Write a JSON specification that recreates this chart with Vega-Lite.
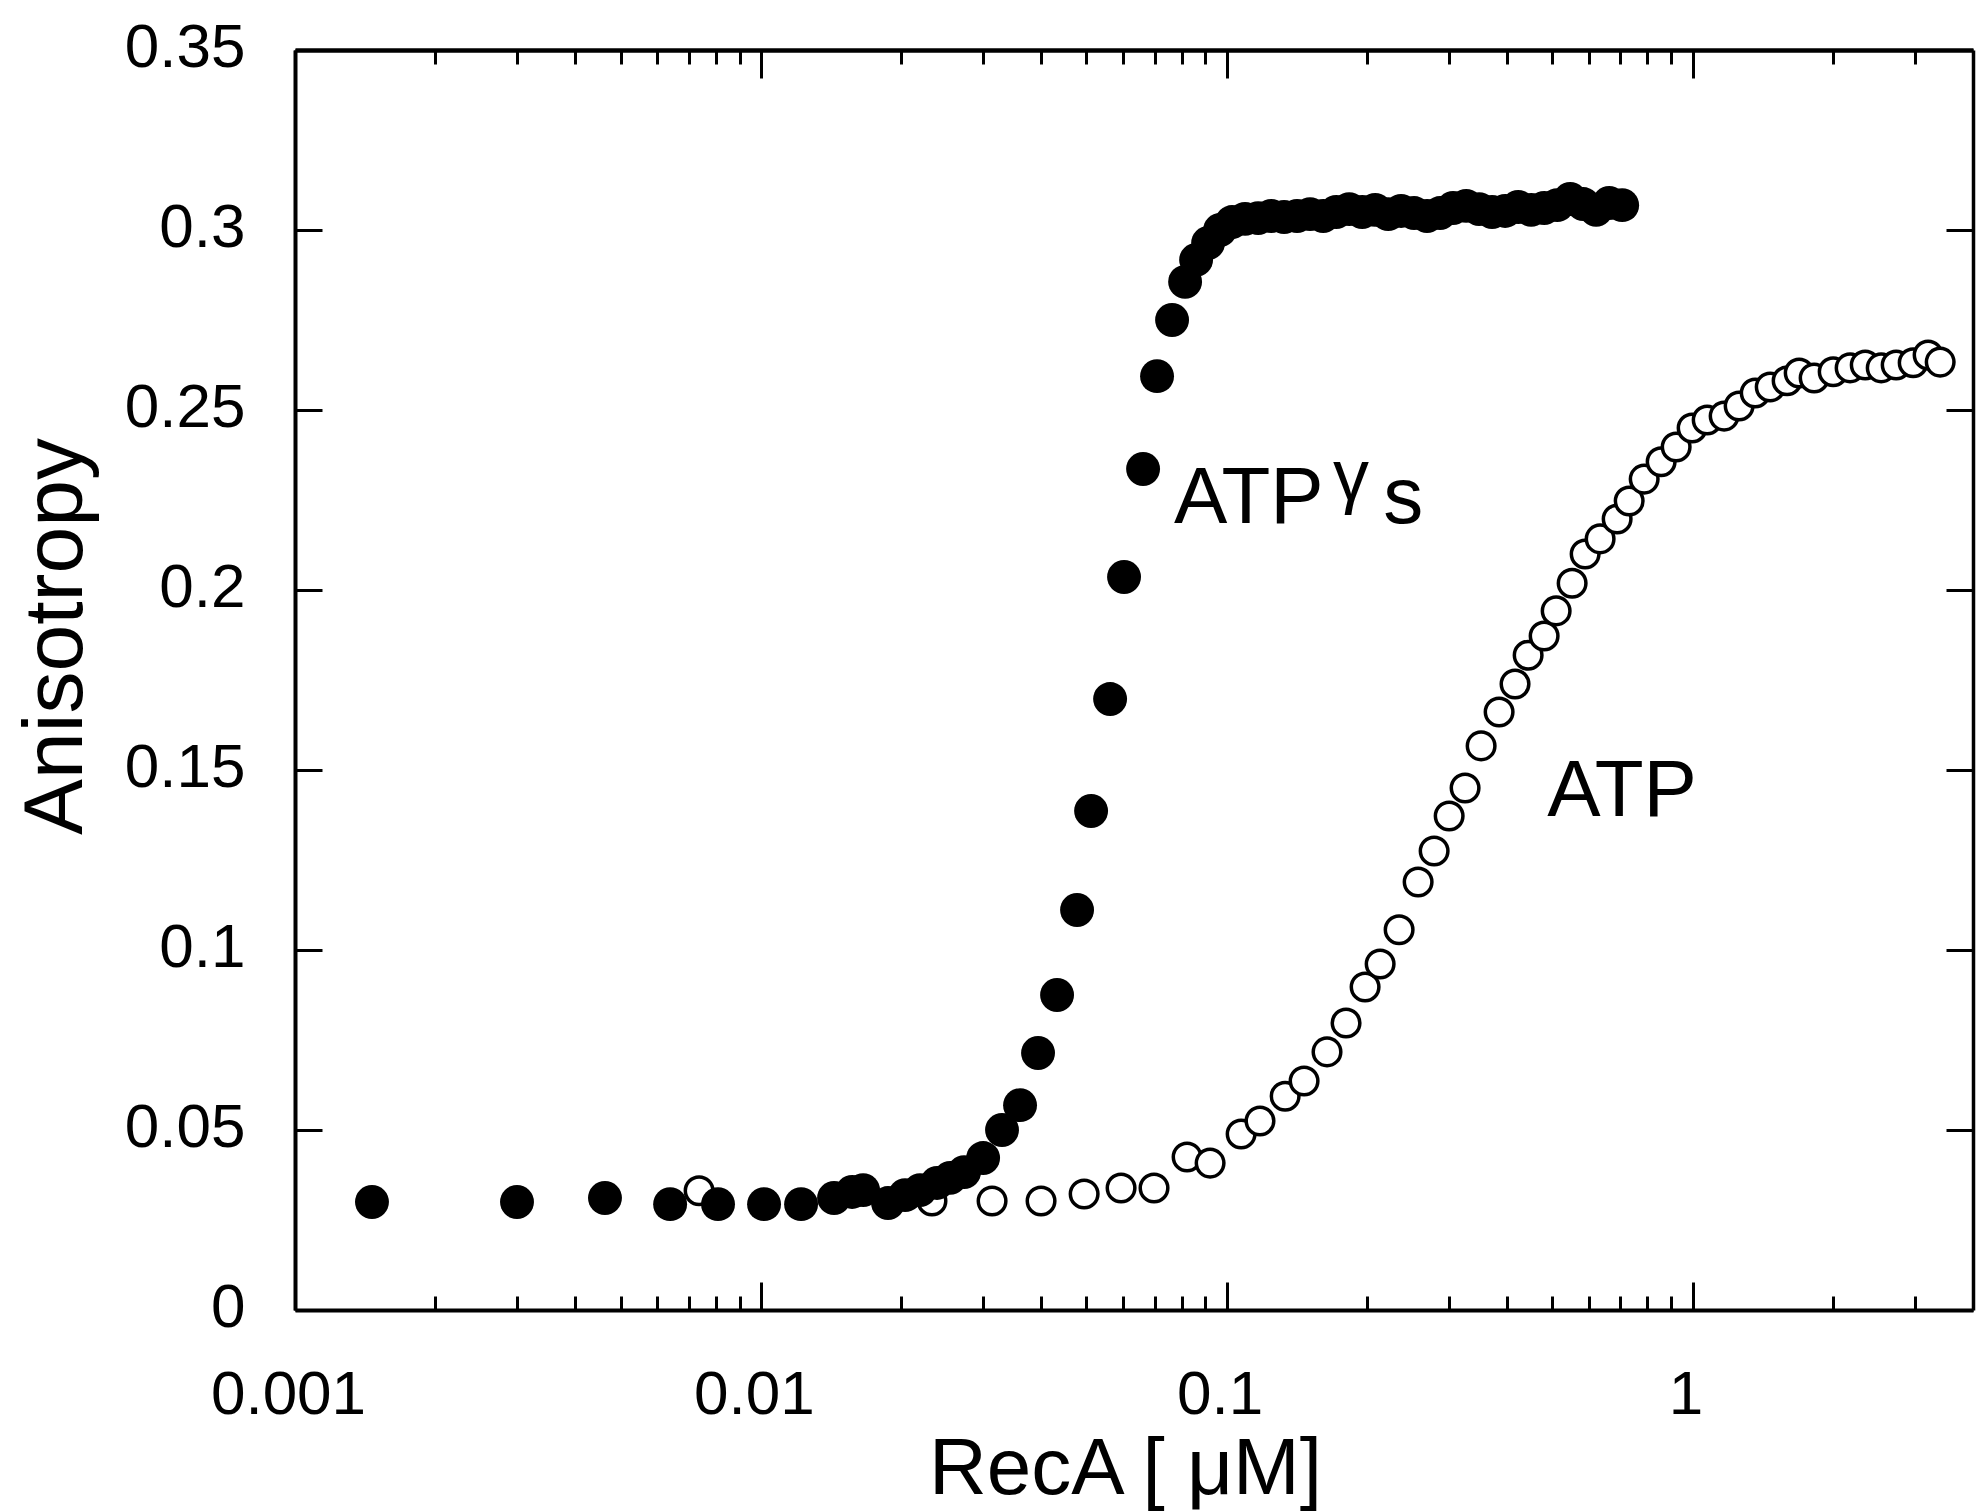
{
  "$schema": "https://vega.github.io/schema/vega-lite/v6.json",
  "autosize": "none",
  "width": 1678,
  "height": 1260,
  "padding": {"left": 295, "top": 50, "right": 3, "bottom": 202},
  "background": "white",
  "config": {"view": {"stroke": null}},
  "datasets": {
    "atpgs": [
      {"conc": 0.001463, "aniso": 0.0300}, {"conc": 0.002996, "aniso": 0.0300}, {"conc": 0.004628, "aniso": 0.0311},
      {"conc": 0.006386, "aniso": 0.0294}, {"conc": 0.008092, "aniso": 0.0294}, {"conc": 0.01016, "aniso": 0.0294},
      {"conc": 0.0122, "aniso": 0.0294}, {"conc": 0.01436, "aniso": 0.0311}, {"conc": 0.0157, "aniso": 0.0328},
      {"conc": 0.01658, "aniso": 0.0333}, {"conc": 0.01875, "aniso": 0.0297}, {"conc": 0.0204, "aniso": 0.0319},
      {"conc": 0.02197, "aniso": 0.0333}, {"conc": 0.02389, "aniso": 0.0353}, {"conc": 0.02549, "aniso": 0.0367},
      {"conc": 0.02731, "aniso": 0.0383}, {"conc": 0.03, "aniso": 0.0422}, {"conc": 0.03294, "aniso": 0.05},
      {"conc": 0.03601, "aniso": 0.0569}, {"conc": 0.03936, "aniso": 0.0714}, {"conc": 0.04324, "aniso": 0.0875},
      {"conc": 0.04773, "aniso": 0.1111}, {"conc": 0.05116, "aniso": 0.1386}, {"conc": 0.0562, "aniso": 0.1697},
      {"conc": 0.06021, "aniso": 0.2036}, {"conc": 0.06615, "aniso": 0.2336}, {"conc": 0.07088, "aniso": 0.2594},
      {"conc": 0.07634, "aniso": 0.275}, {"conc": 0.08142, "aniso": 0.2856}, {"conc": 0.08597, "aniso": 0.2917},
      {"conc": 0.09123, "aniso": 0.2964}, {"conc": 0.09678, "aniso": 0.3}, {"conc": 0.1027, "aniso": 0.3022},
      {"conc": 0.1095, "aniso": 0.3031}, {"conc": 0.1168, "aniso": 0.3033}, {"conc": 0.1246, "aniso": 0.3039},
      {"conc": 0.1328, "aniso": 0.3036}, {"conc": 0.1416, "aniso": 0.3039}, {"conc": 0.151, "aniso": 0.3044},
      {"conc": 0.1611, "aniso": 0.3039}, {"conc": 0.1718, "aniso": 0.305}, {"conc": 0.1832, "aniso": 0.3058},
      {"conc": 0.1953, "aniso": 0.305}, {"conc": 0.2083, "aniso": 0.3056}, {"conc": 0.2221, "aniso": 0.3044},
      {"conc": 0.2368, "aniso": 0.3053}, {"conc": 0.2525, "aniso": 0.3047}, {"conc": 0.2692, "aniso": 0.3039},
      {"conc": 0.2871, "aniso": 0.3047}, {"conc": 0.3062, "aniso": 0.3061}, {"conc": 0.3266, "aniso": 0.3067},
      {"conc": 0.3482, "aniso": 0.3058}, {"conc": 0.3713, "aniso": 0.305}, {"conc": 0.396, "aniso": 0.3053},
      {"conc": 0.4223, "aniso": 0.3064}, {"conc": 0.4503, "aniso": 0.3056}, {"conc": 0.4802, "aniso": 0.3061},
      {"conc": 0.5121, "aniso": 0.3069}, {"conc": 0.5461, "aniso": 0.3086}, {"conc": 0.5823, "aniso": 0.3072},
      {"conc": 0.6209, "aniso": 0.3056}, {"conc": 0.6622, "aniso": 0.3075}, {"conc": 0.7062, "aniso": 0.3069}
    ],
    "atp": [
      {"conc": 0.00737, "aniso": 0.0331}, {"conc": 0.0233, "aniso": 0.0303}, {"conc": 0.03136, "aniso": 0.0303},
      {"conc": 0.03995, "aniso": 0.0303}, {"conc": 0.04943, "aniso": 0.0322}, {"conc": 0.05933, "aniso": 0.0339},
      {"conc": 0.06983, "aniso": 0.0339}, {"conc": 0.08222, "aniso": 0.0425}, {"conc": 0.09213, "aniso": 0.0408},
      {"conc": 0.1074, "aniso": 0.0489}, {"conc": 0.1179, "aniso": 0.0525}, {"conc": 0.1335, "aniso": 0.0594},
      {"conc": 0.1466, "aniso": 0.0636}, {"conc": 0.1642, "aniso": 0.0717}, {"conc": 0.1804, "aniso": 0.0797},
      {"conc": 0.1982, "aniso": 0.0897}, {"conc": 0.2135, "aniso": 0.0961}, {"conc": 0.2345, "aniso": 0.1056},
      {"conc": 0.2576, "aniso": 0.1189}, {"conc": 0.2788, "aniso": 0.1275}, {"conc": 0.3003, "aniso": 0.1372},
      {"conc": 0.3249, "aniso": 0.145}, {"conc": 0.3517, "aniso": 0.1567}, {"conc": 0.3844, "aniso": 0.1661},
      {"conc": 0.4159, "aniso": 0.1739}, {"conc": 0.4437, "aniso": 0.1819}, {"conc": 0.4802, "aniso": 0.1872},
      {"conc": 0.5096, "aniso": 0.1942}, {"conc": 0.5515, "aniso": 0.2019}, {"conc": 0.5881, "aniso": 0.21},
      {"conc": 0.6333, "aniso": 0.2142}, {"conc": 0.6889, "aniso": 0.2197}, {"conc": 0.7311, "aniso": 0.2247},
      {"conc": 0.7874, "aniso": 0.2308}, {"conc": 0.8563, "aniso": 0.2356}, {"conc": 0.9222, "aniso": 0.2397},
      {"conc": 0.9979, "aniso": 0.245}, {"conc": 1.075, "aniso": 0.2472}, {"conc": 1.169, "aniso": 0.2483},
      {"conc": 1.259, "aniso": 0.2511}, {"conc": 1.363, "aniso": 0.2547}, {"conc": 1.468, "aniso": 0.2564},
      {"conc": 1.596, "aniso": 0.2581}, {"conc": 1.694, "aniso": 0.2603}, {"conc": 1.824, "aniso": 0.2589},
      {"conc": 2.004, "aniso": 0.2606}, {"conc": 2.179, "aniso": 0.2617}, {"conc": 2.348, "aniso": 0.2625},
      {"conc": 2.541, "aniso": 0.2617}, {"conc": 2.736, "aniso": 0.2625}, {"conc": 2.976, "aniso": 0.2631},
      {"conc": 3.204, "aniso": 0.2653}, {"conc": 3.401, "aniso": 0.2633}
    ],
    "labels": [
      {"label": "ATP", "conc": 0.0771, "aniso": 0.2186},
      {"label": "s", "conc": 0.2167, "aniso": 0.2186},
      {"label": "ATP", "conc": 0.4876, "aniso": 0.1372}
    ],
    "gamma": [
      {"label": "γ", "conc": 0.1692, "aniso": 0.2250}
    ]
  },
  "layer": [
    {
      "data": {"name": "atp"},
      "mark": {"type": "point", "shape": "circle", "filled": false, "fill": "white", "stroke": "black", "strokeWidth": 3.5, "size": 760, "opacity": 1},
      "encoding": {
        "x": {
          "field": "conc", "type": "quantitative",
          "scale": {"type": "log", "domain": [0.001, 4], "nice": false},
          "axis": {
            "orient": "top",
            "values": [0.001, 0.002, 0.003, 0.004, 0.005, 0.006, 0.007, 0.008, 0.009, 0.01, 0.02, 0.03, 0.04, 0.05, 0.06, 0.07, 0.08, 0.09, 0.1, 0.2, 0.3, 0.4, 0.5, 0.6, 0.7, 0.8, 0.9, 1, 2, 3],
            "labels": false, "title": null, "grid": false,
            "tickSize": {"condition": {"test": "indexof([0.001, 0.01, 0.1, 1], datum.value) >= 0", "value": -28}, "value": -14},
            "tickWidth": 3, "tickColor": "black", "domainColor": "black", "domainWidth": 4.5
          }
        },
        "y": {
          "field": "aniso", "type": "quantitative",
          "scale": {"domain": [0, 0.35], "nice": false, "zero": true},
          "axis": {
            "orient": "right",
            "values": [0, 0.05, 0.1, 0.15, 0.2, 0.25, 0.3, 0.35],
            "labels": false, "title": null, "grid": false,
            "tickSize": -27, "tickWidth": 3, "tickColor": "black", "domainColor": "black", "domainWidth": 3.5
          }
        }
      }
    },
    {
      "data": {"name": "atpgs"},
      "mark": {"type": "point", "shape": "circle", "filled": true, "color": "black", "size": 1150, "opacity": 1, "strokeWidth": 0},
      "encoding": {
        "x": {
          "field": "conc", "type": "quantitative",
          "scale": {"type": "log", "domain": [0.001, 4], "nice": false},
          "axis": {
            "orient": "bottom",
            "values": [0.001, 0.002, 0.003, 0.004, 0.005, 0.006, 0.007, 0.008, 0.009, 0.01, 0.02, 0.03, 0.04, 0.05, 0.06, 0.07, 0.08, 0.09, 0.1, 0.2, 0.3, 0.4, 0.5, 0.6, 0.7, 0.8, 0.9, 1, 2, 3],
            "labelExpr": "indexof([0.001, 0.01, 0.1, 1], datum.value) >= 0 ? format(datum.value, '~g') : ''",
            "tickSize": {"condition": {"test": "indexof([0.001, 0.01, 0.1, 1], datum.value) >= 0", "value": -28}, "value": -14},
            "tickWidth": 3, "tickColor": "black", "domainColor": "black", "domainWidth": 4, "grid": false,
            "labelFont": "Liberation Sans", "labelFontSize": 62, "labelColor": "black",
            "labelPadding": 131, "labelBaseline": "alphabetic", "labelAlign": "center", "labelOffset": -7,
            "labelFlush": false, "labelOverlap": false,
            "title": "RecA [ μM]", "titleFont": "Liberation Sans", "titleFontSize": 80, "titleFontWeight": "normal", "titleColor": "black",
            "titleX": 830, "titleY": 183, "titleAlign": "center", "titleBaseline": "alphabetic"
          }
        },
        "y": {
          "field": "aniso", "type": "quantitative",
          "scale": {"domain": [0, 0.35], "nice": false, "zero": true},
          "axis": {
            "orient": "left",
            "values": [0, 0.05, 0.1, 0.15, 0.2, 0.25, 0.3, 0.35],
            "format": ".2~f",
            "tickSize": -27, "tickWidth": 3, "tickColor": "black", "domainColor": "black", "domainWidth": 4, "grid": false,
            "labelFont": "Liberation Sans", "labelFontSize": 62, "labelColor": "black",
            "labelPadding": 77, "labelBaseline": "alphabetic", "labelAlign": "right", "labelOffset": 16,
            "labelFlush": false, "labelOverlap": false,
            "title": "Anisotropy", "titleFont": "Liberation Sans", "titleFontSize": 84, "titleFontWeight": "normal", "titleColor": "black",
            "titleX": -214, "titleY": 586, "titleAngle": -90, "titleAlign": "center", "titleBaseline": "alphabetic"
          }
        }
      }
    },
    {
      "data": {"name": "labels"},
      "mark": {"type": "text", "font": "Liberation Sans", "fontSize": 80, "align": "left", "baseline": "alphabetic", "color": "black"},
      "encoding": {
        "x": {"field": "conc", "type": "quantitative", "axis": null},
        "y": {"field": "aniso", "type": "quantitative", "axis": null},
        "text": {"field": "label"}
      }
    },
    {
      "data": {"name": "gamma"},
      "mark": {"type": "text", "font": "Liberation Sans", "fontSize": 72, "align": "left", "baseline": "alphabetic", "color": "black"},
      "encoding": {
        "x": {"field": "conc", "type": "quantitative", "axis": null},
        "y": {"field": "aniso", "type": "quantitative", "axis": null},
        "text": {"field": "label"}
      }
    }
  ],
  "resolve": {"axis": {"x": "independent", "y": "independent"}}
}
